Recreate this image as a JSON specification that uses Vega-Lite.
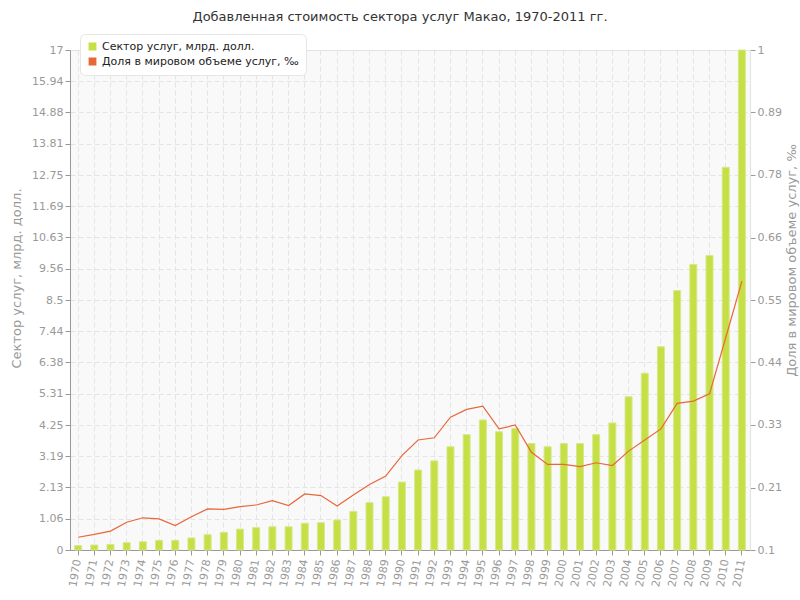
{
  "$schema": "https://vega.github.io/schema/vega-lite/v6.json",
  "width": 680,
  "height": 500,
  "autosize": {"type": "none"},
  "padding": {"left": 70, "top": 50, "right": 50, "bottom": 50},
  "background": "white",
  "title": {
    "text": "Добавленная стоимость сектора услуг Макао, 1970-2011 гг.",
    "font": "DejaVu Sans",
    "fontSize": 13,
    "fontWeight": "normal",
    "color": "#333333",
    "anchor": "middle",
    "dx": -10,
    "offset": 10
  },
  "config": {
    "font": "DejaVu Sans",
    "view": {"fill": "#f9f9f9", "stroke": "#e2e2e2"},
    "axis": {
      "labelFont": "DejaVu Sans",
      "labelFontSize": 11,
      "labelColor": "#999999",
      "titleFont": "DejaVu Sans",
      "titleFontSize": 13,
      "titleFontWeight": "normal",
      "titleColor": "#999999",
      "tickColor": "#999999",
      "tickSize": 5,
      "domainColor": "#999999",
      "gridColor": "#e4e4e4",
      "gridDash": [5, 3],
      "zindex": 1
    }
  },
  "data": {
    "values": [
      {"year": "1970", "services": 0.15, "share": 0.123},
      {"year": "1971", "services": 0.17, "share": 0.128},
      {"year": "1972", "services": 0.19, "share": 0.134},
      {"year": "1973", "services": 0.25, "share": 0.150},
      {"year": "1974", "services": 0.28, "share": 0.158},
      {"year": "1975", "services": 0.33, "share": 0.156},
      {"year": "1976", "services": 0.33, "share": 0.144},
      {"year": "1977", "services": 0.41, "share": 0.160},
      {"year": "1978", "services": 0.52, "share": 0.174},
      {"year": "1979", "services": 0.60, "share": 0.173},
      {"year": "1980", "services": 0.71, "share": 0.178},
      {"year": "1981", "services": 0.76, "share": 0.181},
      {"year": "1982", "services": 0.79, "share": 0.189},
      {"year": "1983", "services": 0.79, "share": 0.180},
      {"year": "1984", "services": 0.91, "share": 0.201},
      {"year": "1985", "services": 0.93, "share": 0.198},
      {"year": "1986", "services": 1.02, "share": 0.179},
      {"year": "1987", "services": 1.31, "share": 0.199},
      {"year": "1988", "services": 1.61, "share": 0.218},
      {"year": "1989", "services": 1.81, "share": 0.233},
      {"year": "1990", "services": 2.31, "share": 0.270},
      {"year": "1991", "services": 2.72, "share": 0.298},
      {"year": "1992", "services": 3.03, "share": 0.302},
      {"year": "1993", "services": 3.51, "share": 0.339},
      {"year": "1994", "services": 3.92, "share": 0.353},
      {"year": "1995", "services": 4.42, "share": 0.359},
      {"year": "1996", "services": 4.02, "share": 0.318},
      {"year": "1997", "services": 4.13, "share": 0.325},
      {"year": "1998", "services": 3.62, "share": 0.276},
      {"year": "1999", "services": 3.51, "share": 0.254},
      {"year": "2000", "services": 3.62, "share": 0.254},
      {"year": "2001", "services": 3.62, "share": 0.250},
      {"year": "2002", "services": 3.92, "share": 0.257},
      {"year": "2003", "services": 4.32, "share": 0.252},
      {"year": "2004", "services": 5.21, "share": 0.278},
      {"year": "2005", "services": 6.01, "share": 0.298},
      {"year": "2006", "services": 6.91, "share": 0.318},
      {"year": "2007", "services": 8.82, "share": 0.364},
      {"year": "2008", "services": 9.71, "share": 0.368},
      {"year": "2009", "services": 10.01, "share": 0.381},
      {"year": "2010", "services": 13.01, "share": 0.482},
      {"year": "2011", "services": 17.0, "share": 0.584}
    ]
  },
  "encoding": {
    "x": {
      "field": "year",
      "type": "ordinal",
      "scale": {"paddingInner": 0, "paddingOuter": 0},
      "axis": {
        "title": null,
        "labelAngle": -80,
        "grid": true,
        "labelPadding": 4
      }
    }
  },
  "layer": [
    {
      "mark": {"type": "bar", "size": 7, "stroke": "#d5e98c", "strokeWidth": 1},
      "encoding": {
        "y": {
          "field": "services",
          "type": "quantitative",
          "scale": {"domain": [0, 17], "nice": false, "zero": true},
          "axis": {
            "title": "Сектор услуг, млрд. долл.",
            "values": [0, 1.062, 2.126, 3.188, 4.25, 5.312, 6.376, 7.438, 8.5, 9.562, 10.626, 11.688, 12.75, 13.812, 14.876, 15.938, 17],
            "format": ".2~f",
            "grid": true,
            "titleY": 228,
            "titlePadding": 8
          }
        },
        "color": {
          "datum": "Сектор услуг, млрд. долл.",
          "type": "nominal",
          "scale": {
            "domain": ["Сектор услуг, млрд. долл.", "Доля в мировом объеме услуг, ‰"],
            "range": ["#c5df45", "#e8673a"]
          },
          "legend": {
            "title": null,
            "orient": "none",
            "legendX": 10,
            "legendY": -16,
            "symbolType": "square",
            "symbolSize": 40,
            "labelFontSize": 11,
            "labelColor": "#222222",
            "labelFont": "DejaVu Sans",
            "labelLimit": 400,
            "fillColor": "white",
            "strokeColor": "#e6e6e6",
            "cornerRadius": 5,
            "padding": 7,
            "rowPadding": 2,
            "zindex": 2
          }
        }
      }
    },
    {
      "mark": {"type": "line", "strokeWidth": 1.2, "interpolate": "linear"},
      "encoding": {
        "y": {
          "field": "share",
          "type": "quantitative",
          "scale": {"domain": [0.1, 1], "nice": false, "zero": false},
          "axis": {
            "orient": "right",
            "title": "Доля в мировом объеме услуг, ‰",
            "values": [0.1, 0.2124, 0.3251, 0.4376, 0.55, 0.6624, 0.7751, 0.8876, 1],
            "format": ".2~f",
            "grid": false,
            "domainColor": "#e2e2e2",
            "titleAngle": 270,
            "titleBaseline": "top",
            "titleY": 210,
            "titlePadding": 4
          }
        },
        "color": {"datum": "Доля в мировом объеме услуг, ‰", "type": "nominal", "legend": null}
      }
    }
  ],
  "resolve": {"scale": {"y": "independent"}}
}
